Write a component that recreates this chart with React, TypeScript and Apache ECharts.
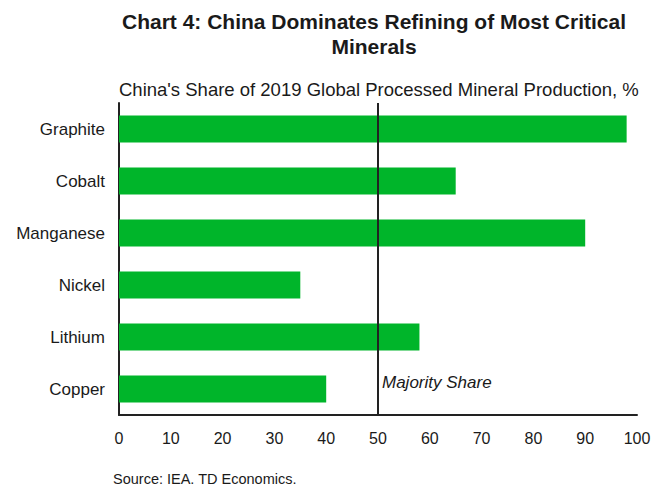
import React, { useEffect, useRef } from "react";
import * as echarts from "echarts";

const categories = ["Graphite", "Cobalt", "Manganese", "Nickel", "Lithium", "Copper"];
const shares = [98, 65, 90, 35, 58, 40];
const xTicks = [0, 10, 20, 30, 40, 50, 60, 70, 80, 90, 100];
const majorityValue = 50;
const majorityLabel = "Majority Share";
const titleLines = ["Chart 4: China Dominates Refining of Most Critical", "Minerals"];
const subtitle = "China's Share of 2019 Global Processed Mineral Production, %";
const source = "Source: IEA. TD Economics.";

const FONT = "'Liberation Sans', Arial, sans-serif";

export default function App() {
  const ref = useRef<HTMLDivElement>(null);
  useEffect(() => {
    if (!ref.current) return;
    const chart = echarts.init(ref.current, null, { renderer: "svg" });
    chart.setOption({
      animation: false,
      backgroundColor: "#ffffff",
      textStyle: { fontFamily: FONT },
      grid: { left: 119, right: 17, top: 103, bottom: 72, containLabel: false },
      graphic: [
        {
          type: "text",
          x: 374,
          y: 21,
          style: {
            text: titleLines[0],
            font: `bold 21px ${FONT}`,
            fill: "#1a1a1a",
            textAlign: "center",
            textVerticalAlign: "middle",
          },
        },
        {
          type: "text",
          x: 374,
          y: 46,
          style: {
            text: titleLines[1],
            font: `bold 21px ${FONT}`,
            fill: "#1a1a1a",
            textAlign: "center",
            textVerticalAlign: "middle",
          },
        },
        {
          type: "text",
          x: 119,
          y: 89,
          style: {
            text: subtitle,
            font: `18.5px ${FONT}`,
            fill: "#1a1a1a",
            textAlign: "left",
            textVerticalAlign: "middle",
          },
        },
        {
          type: "text",
          x: 113,
          y: 479,
          style: {
            text: source,
            font: `14.5px ${FONT}`,
            fill: "#1a1a1a",
            textAlign: "left",
            textVerticalAlign: "middle",
          },
        },
      ],
      xAxis: {
        type: "value",
        min: 0,
        max: 100,
        interval: 10,
        axisLine: { show: true, lineStyle: { color: "#222222", width: 2 } },
        axisTick: { show: false },
        splitLine: { show: false },
        axisLabel: {
          color: "#1a1a1a",
          fontSize: 16,
          margin: 15,
          fontFamily: FONT,
          formatter: (v: number) => (xTicks.includes(v) ? String(v) : ""),
        },
      },
      yAxis: {
        type: "category",
        data: categories,
        inverse: true,
        axisLine: { show: true, lineStyle: { color: "#222222", width: 2 } },
        axisTick: { show: false },
        axisLabel: { color: "#1a1a1a", fontSize: 17, margin: 14, fontFamily: FONT },
      },
      series: [
        {
          type: "bar",
          data: shares,
          barWidth: "52%",
          itemStyle: { color: "#00b52a" },
          markLine: {
            silent: true,
            symbol: "none",
            lineStyle: { color: "#222222", width: 2, type: "solid" },
            label: { show: false },
            data: [{ xAxis: majorityValue }],
          },
          markPoint: {
            silent: true,
            symbol: "circle",
            symbolSize: 0,
            data: [
              {
                coord: [majorityValue, categories[categories.length - 1]],
                label: {
                  show: true,
                  position: "right",
                  distance: 4,
                  offset: [0, -7],
                  formatter: majorityLabel,
                  fontStyle: "italic",
                  fontSize: 17,
                  color: "#1a1a1a",
                  fontFamily: FONT,
                },
              },
            ],
          },
        },
      ],
    });
    return () => chart.dispose();
  }, []);
  return (
    <div
      ref={ref}
      style={{ position: "fixed", left: 0, top: 0, width: 654, height: 487 }}
    />
  );
}
